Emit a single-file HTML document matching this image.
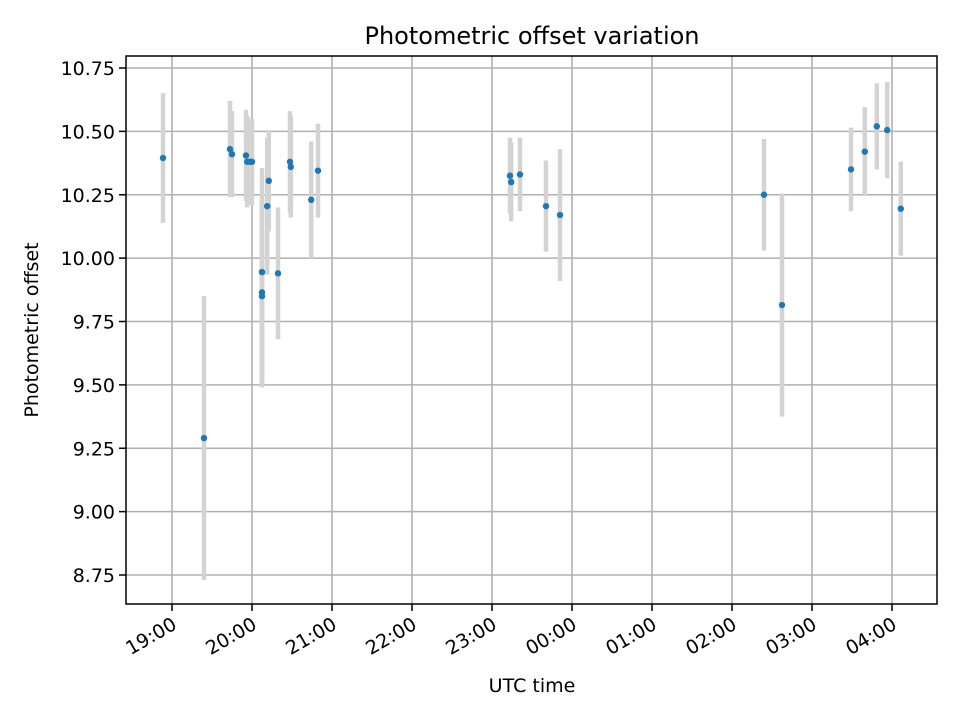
<!DOCTYPE html>
<html><head><meta charset="utf-8"><style>
body{margin:0;background:#fff;font-family:"DejaVu Sans","Liberation Sans",sans-serif}
</style></head><body>
<svg id="chart" width="960" height="720" xmlns="http://www.w3.org/2000/svg" font-family="DejaVu Sans, Liberation Sans, sans-serif">
<rect width="960" height="720" fill="#fff"/>
<g id="grid"></g>
<g id="bars"></g>
<g id="pts"></g>
<rect x="126" y="56" width="811" height="548" fill="none" stroke="#000" stroke-width="1.5"/>
<g id="ticks"></g>
<text x="532" y="44" font-size="24" text-anchor="middle">Photometric offset variation</text>
<text x="532" y="692" font-size="19" text-anchor="middle">UTC time</text>
<text transform="translate(38,330) rotate(-90)" font-size="19" text-anchor="middle">Photometric offset</text>
</svg>
<script>
// hours after 19:00 UTC
const times=[-0.1125,0.4,0.725,0.75,0.925,0.94,0.975,1.0,1.125,1.125,1.125,1.19,1.21,1.325,1.475,1.485,1.74,1.825,4.225,4.24,4.35,4.675,4.85,7.4,7.625,8.4875,8.66,8.81,8.94,9.11];
const values=[10.395,9.29,10.43,10.41,10.405,10.38,10.38,10.38,9.945,9.865,9.85,10.205,10.305,9.94,10.38,10.36,10.23,10.345,10.325,10.30,10.33,10.205,10.17,10.25,9.815,10.35,10.42,10.52,10.505,10.195];
const errors=[0.256,0.56,0.19,0.17,0.18,0.18,0.17,0.17,0.41,0.37,0.36,0.27,0.2,0.26,0.2,0.2,0.23,0.185,0.15,0.155,0.145,0.18,0.26,0.22,0.44,0.165,0.175,0.17,0.19,0.185];
const yTicks=[8.75,9.00,9.25,9.50,9.75,10.00,10.25,10.50,10.75];
const xTickLabels=["19:00","20:00","21:00","22:00","23:00","00:00","01:00","02:00","03:00","04:00"];
const NS="http://www.w3.org/2000/svg";
const X=t=>172+t*80, Y=v=>68+(10.75-v)*253.5;
function mk(tag,attrs,parent){const e=document.createElementNS(NS,tag);for(const k in attrs)e.setAttribute(k,attrs[k]);parent.appendChild(e);return e;}
const grid=document.getElementById('grid'),ticks=document.getElementById('ticks'),bars=document.getElementById('bars'),pts=document.getElementById('pts');
yTicks.forEach(v=>{const y=Y(v);
 const g=mk('line',{x1:126,x2:937,y1:y,y2:y,stroke:'#b0b0b0','stroke-width':1.6},grid);
 
 mk('line',{x1:119,x2:126,y1:y,y2:y,stroke:'#000','stroke-width':1.5},ticks);
 const t=mk('text',{x:115,y:y+7,'font-size':19,'text-anchor':'end'},ticks);t.textContent=v.toFixed(2);
 });
xTickLabels.forEach((l,i)=>{const x=X(i);
 const g=mk('line',{x1:x,x2:x,y1:56,y2:604,stroke:'#b0b0b0','stroke-width':1.6},grid);
 
 mk('line',{x1:x,x2:x,y1:604,y2:611,stroke:'#000','stroke-width':1.5},ticks);
 const t=mk('text',{'font-size':19,'text-anchor':'end',transform:`translate(${x+6},${628}) rotate(-30)`},ticks);t.textContent=l;
 });
times.forEach((t,i)=>{const x=X(t);
 const b=mk('line',{x1:x,x2:x,y1:Y(values[i]+errors[i]),y2:Y(values[i]-errors[i]),stroke:'#d3d3d3','stroke-width':4.5},bars);
 
 const c=mk('circle',{cx:x,cy:Y(values[i]),r:3.2,fill:'#1f77b4'},pts);
 });
</script>
</body></html>
